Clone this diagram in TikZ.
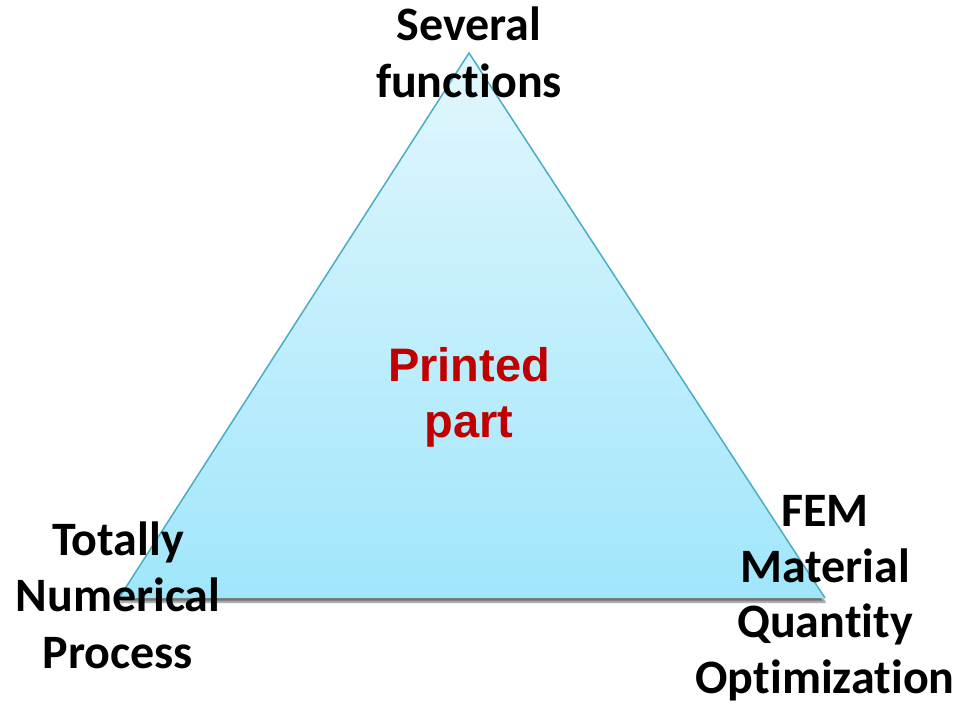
\documentclass[tikz,border=0pt]{standalone}
\usepackage{fontspec}
\setmainfont[Ligatures=NoCommon]{Carlito}
\newfontfamily\arialfont{Liberation Sans}
\usetikzlibrary{shadows.blur}

\begin{document}
\begin{tikzpicture}[x=1pt,y=-1pt]
	\tikzstyle{every node}=[inner sep=0pt]
	\tikzstyle{corner label}=[align=center, anchor=base, font=\bfseries\fontsize{48}{56.5}\selectfont]

	\definecolor{edgeblue}{RGB}{75,172,198}
	\definecolor{topfill}{RGB}{226,247,253}
	\definecolor{bottomfill}{RGB}{160,230,251}
	\definecolor{partred}{RGB}{192,0,0}

	\useasboundingbox (0,0) rectangle (957,709);

	%% corners of the triangle
	\coordinate (apex) at (469,53);
	\coordinate (left) at (119,598);
	\coordinate (right) at (825,598);

	\path [top color=topfill, bottom color=bottomfill, blur shadow={shadow xshift=0pt, shadow yshift=-4pt, shadow blur steps=6, shadow opacity=55}]
		(apex) -- (left) -- (right) -- cycle;
	\draw [edgeblue, line width=1.5pt, line join=miter] (left) -- (apex) -- (right);

	%% labels (placed at the baseline of their last line)
	\node [corner label] (several) at (469,97) {Several\\functions};
	\node [corner label] (numerical) at (118,668) {Totally\\Numerical\\Process};
	\node [corner label, font=\bfseries\fontsize{48}{55.5}\selectfont] (fem) at (825,693) {FEM\\Material\\Quantity\\Optimization};
	\node [corner label, font=\arialfont\bfseries\fontsize{47}{56}\selectfont, text=partred] (printed) at (469,437) {Printed\\part};

\end{tikzpicture}
\end{document}
